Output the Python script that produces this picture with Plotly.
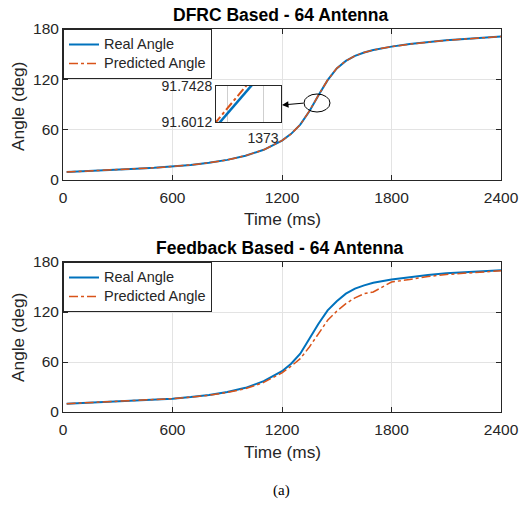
import plotly.graph_objects as go

# ---------------- data ----------------
time_ms = [20, 100, 200, 300, 400, 500, 600, 700, 800, 900, 1000, 1100, 1200,
           1250, 1300, 1350, 1400, 1450, 1500, 1550, 1600, 1650, 1700, 1800,
           1900, 2000, 2100, 2200, 2300, 2400]

dfrc_real = [9.5, 10.5, 11.5, 12.5, 13.5, 14.5, 16, 18, 20.5, 24, 29, 36, 47,
             55, 66, 82, 101, 119, 133, 142, 148, 152, 155, 159, 162, 164.5,
             166.5, 168, 169.5, 171]
dfrc_pred = [9.5, 10.5, 11.5, 12.5, 13.5, 14.5, 16, 18, 20.5, 24, 29, 36, 47,
             55, 66, 82.3, 101.3, 119.2, 133.2, 142, 148, 152, 155, 159, 162,
             164.5, 166.5, 168, 169.5, 171]

fb_real = [10, 10.8, 11.8, 12.8, 13.8, 14.8, 16, 18, 20.5, 24, 29, 37, 49,
           58, 70, 88, 106, 122, 133, 142, 148, 152, 155, 159, 162, 164.5,
           166.5, 168, 169, 170]
fb_pred = [10, 10.8, 11.8, 12.8, 13.8, 14.8, 16, 17.8, 20, 23.5, 28, 35.5, 47,
           55, 64, 78, 94, 110, 121, 130, 137, 142, 144, 156, 159, 162.5,
           165, 166.5, 168, 169.5]

# inset (zoom around t = 1373 ms)
inset_time = [1372.4, 1373.1]
inset_real = [91.523, 91.843]
inset_pred = [91.540, 91.870]
inset_y_ticks = [91.6012, 91.7428]
inset_x_ticks = [1372.64, 1373.0]
inset_x_labels = ["", "1373"]

x_ticks = [0, 600, 1200, 1800, 2400]
y_ticks = [0, 60, 120, 180]

series_names = ["Real Angle", "Predicted Angle"]
titles = ["DFRC Based - 64 Antenna", "Feedback Based - 64 Antenna"]
xlabel = "Time (ms)"
ylabel = "Angle (deg)"
caption = "(a)"

# ---------------- style ----------------
W, H = 527, 510
BLUE = "#0072BD"
ORANGE = "#D95319"
AXC = "#262626"
GRID = "#e3e3e3"
FONT = "Liberation Sans, Arial, sans-serif"


def px(x):
    return x / W


def py(y):
    return 1 - y / H


def legend_name(s):
    return f"<span style='font-size:14.5px'>{s}</span>"


fig = go.Figure()

# main subplots
for (real, pred, xa, ya, lg) in [(dfrc_real, dfrc_pred, "x", "y", "legend"),
                                 (fb_real, fb_pred, "x2", "y2", "legend2")]:
    fig.add_trace(go.Scatter(x=time_ms, y=real, mode="lines",
                             name=legend_name(series_names[0]),
                             line=dict(color=BLUE, width=2), xaxis=xa, yaxis=ya,
                             legend=lg))
    fig.add_trace(go.Scatter(x=time_ms, y=pred, mode="lines",
                             name=legend_name(series_names[1]),
                             line=dict(color=ORANGE, width=1.5, dash="dashdot"),
                             xaxis=xa, yaxis=ya, legend=lg))
# inset
fig.add_trace(go.Scatter(x=inset_time, y=inset_real, mode="lines", showlegend=False,
                         line=dict(color=BLUE, width=2.5), xaxis="x3", yaxis="y3"))
fig.add_trace(go.Scatter(x=inset_time, y=inset_pred, mode="lines", showlegend=False,
                         line=dict(color=ORANGE, width=2, dash="dashdot"),
                         xaxis="x3", yaxis="y3"))

axis_common = dict(
    showline=True, linecolor=AXC, linewidth=1, mirror="allticks",
    ticks="inside", ticklen=5, tickcolor=AXC, automargin=False,
    showgrid=True, gridcolor=GRID, gridwidth=1, zeroline=False,
    tickfont=dict(family=FONT, size=15.5, color=AXC),
)

legend_common = dict(xanchor="left", yanchor="top",
                     bgcolor="white", bordercolor=AXC, borderwidth=1,
                     font=dict(family=FONT, size=11, color=AXC),
                     tracegroupgap=0, itemwidth=30)

xdom = [px(63), px(501)]
fig.update_layout(
    template="none",
    width=W, height=H,
    margin=dict(l=0, r=0, t=0, b=0, pad=0),
    paper_bgcolor="white", plot_bgcolor="white",
    font=dict(family=FONT, color=AXC),
    xaxis=dict(domain=xdom, range=[0, 2400], tickvals=x_ticks, anchor="y",
               ticklabelstandoff=3, **axis_common),
    yaxis=dict(domain=[py(180), py(29)], range=[0, 180], tickvals=y_ticks, anchor="x",
               **axis_common),
    xaxis2=dict(domain=xdom, range=[0, 2400], tickvals=x_ticks, anchor="y2",
                ticklabelstandoff=3, **axis_common),
    yaxis2=dict(domain=[py(412), py(262)], range=[0, 180], tickvals=y_ticks, anchor="x2",
                **axis_common),
    xaxis3=dict(domain=[px(216), px(281)], range=[1372.53, 1373.18],
                tickvals=inset_x_ticks, ticktext=inset_x_labels, anchor="y3",
                showline=True, linecolor=AXC, mirror=True, ticks="", showgrid=True,
                gridcolor="#cfcfcf", zeroline=False, automargin=False,
                ticklabelstandoff=3,
                tickfont=dict(family=FONT, size=14, color=AXC)),
    yaxis3=dict(domain=[py(122), py(86)], range=[91.6012, 91.7428],
                tickvals=inset_y_ticks, ticktext=["91.6012", "91.7428"], anchor="x3",
                showline=True, linecolor=AXC, mirror=True, ticks="", showgrid=False,
                zeroline=False, automargin=False,
                tickfont=dict(family=FONT, size=14, color=AXC)),
    legend=dict(x=px(63), y=py(29), **legend_common),
    legend2=dict(x=px(63), y=py(262), **legend_common),
    showlegend=True,
)

annotations = []


def label(text, x, y, size, angle=0, family=FONT, color=AXC):
    annotations.append(dict(text=text, x=px(x), y=py(y), xref="paper", yref="paper",
                            xanchor="center", yanchor="middle", showarrow=False,
                            textangle=angle,
                            font=dict(family=family, size=size, color=color)))


# titles
for t, yy in zip(titles, [15, 248]):
    label(f"<b>{t}</b>", 280, yy, 17.5, color="black")
# axis labels
for yy in [219, 452]:
    label(xlabel, 282, yy, 17.3)
for yy in [107, 338]:
    label(ylabel, 18, yy, 17.3, angle=-90)
# caption
label(caption, 281, 490, 15, family="Liberation Serif, Times New Roman, serif",
      color="black")

# arrow from ellipse to inset
annotations.append(dict(x=px(282), y=py(105), xref="paper", yref="paper",
                        ax=23, ay=-2, axref="pixel", ayref="pixel", text="",
                        showarrow=True, arrowhead=2, arrowsize=1.3, arrowwidth=1,
                        arrowcolor="black"))
fig.update_layout(annotations=annotations)

# ellipse around the zoomed region
fig.add_shape(type="circle", xref="paper", yref="paper",
              x0=px(304), x1=px(330), y0=py(112), y1=py(94),
              line=dict(color="black", width=1))

fig.write_html("out.html")
